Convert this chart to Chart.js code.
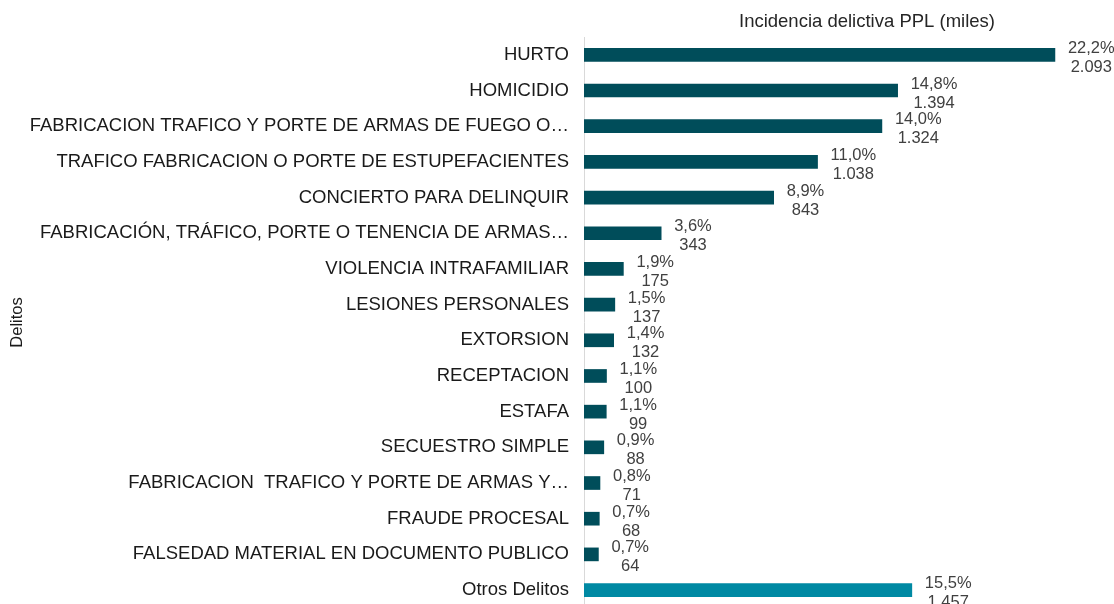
<!DOCTYPE html>
<html>
<head>
<meta charset="utf-8">
<script src="https://cdn.jsdelivr.net/npm/chart.js@4/dist/chart.umd.min.js"></script>
<style>
  html, body { margin: 0; padding: 0; background: #fff; overflow: hidden; }
  canvas { display: block; }
</style>
</head>
<body>
<canvas id="c" width="1114" height="634" style="width:1114px;height:634px"></canvas>
<script>
const categories = [
  "HURTO",
  "HOMICIDIO",
  "FABRICACION TRAFICO Y PORTE DE ARMAS DE FUEGO O…",
  "TRAFICO FABRICACION O PORTE DE ESTUPEFACIENTES",
  "CONCIERTO PARA DELINQUIR",
  "FABRICACIÓN, TRÁFICO, PORTE O TENENCIA DE ARMAS…",
  "VIOLENCIA INTRAFAMILIAR",
  "LESIONES PERSONALES",
  "EXTORSION",
  "RECEPTACION",
  "ESTAFA",
  "SECUESTRO SIMPLE",
  "FABRICACION  TRAFICO Y PORTE DE ARMAS Y…",
  "FRAUDE PROCESAL",
  "FALSEDAD MATERIAL EN DOCUMENTO PUBLICO",
  "Otros Delitos"
];
const values = [2093, 1394, 1324, 1038, 843, 343, 175, 137, 132, 100, 99, 88, 71, 68, 64, 1457];
const percentLabels = ["22,2%", "14,8%", "14,0%", "11,0%", "8,9%", "3,6%", "1,9%", "1,5%", "1,4%", "1,1%", "1,1%", "0,9%", "0,8%", "0,7%", "0,7%", "15,5%"];
const valueLabels = ["2.093", "1.394", "1.324", "1.038", "843", "343", "175", "137", "132", "100", "99", "88", "71", "68", "64", "1.457"];
const chartTitle = "Incidencia delictiva PPL (miles)";
const axisTitle = "Delitos";

const DARK = "#004d5a";
const LIGHT = "#0089a3";
const barColors = categories.map((c, i) => i === categories.length - 1 ? LIGHT : DARK);

const labelPlugin = {
  id: "barLabels",
  afterDatasetsDraw(chart) {
    const ctx = chart.ctx;
    const meta = chart.getDatasetMeta(0);
    ctx.save();
    ctx.font = "16.5px 'Liberation Sans', Arial, sans-serif";
    ctx.fillStyle = "#404040";
    ctx.textAlign = "center";
    ctx.textBaseline = "middle";
    meta.data.forEach((bar, i) => {
      const p = percentLabels[i], v = valueLabels[i];
      const w = Math.max(ctx.measureText(p).width, ctx.measureText(v).width);
      const left = bar.x + 13;
      const cx = left + w / 2;
      ctx.fillText(p, cx, bar.y - 6.5);
      ctx.fillText(v, cx, bar.y + 12.5);
    });
    ctx.fillStyle = "#262626";
    ctx.font = "18.5px 'Liberation Sans', Arial, sans-serif";
    ctx.fillText(chartTitle, 867, 22);
    ctx.restore();
  }
};

new Chart(document.getElementById("c"), {
  type: "bar",
  data: {
    labels: categories,
    datasets: [{
      data: values,
      backgroundColor: barColors,
      barThickness: 13,
      borderWidth: 0
    }]
  },
  options: {
    indexAxis: "y",
    responsive: false,
    maintainAspectRatio: false,
    animation: false,
    devicePixelRatio: 1,
    layout: { padding: { top: 37, bottom: 5, left: 0, right: 35 } },
    plugins: {
      legend: { display: false },
      tooltip: { enabled: false },
      title: { display: false }
    },
    scales: {
      x: {
        display: false,
        min: 0,
        max: 2200
      },
      y: {
        afterFit(scale) { scale.width = 584; },
        grid: { display: false, drawTicks: false },
        border: { display: true, color: "#d9d9d9", width: 1 },
        ticks: {
          padding: 15,
          color: "#1a1a1a",
          font: { family: "'Liberation Sans', Arial, sans-serif", size: 18.5 }
        },
        title: {
          display: true,
          text: axisTitle,
          color: "#1a1a1a",
          padding: { top: 8, bottom: 0 },
          font: { family: "'Liberation Sans', Arial, sans-serif", size: 16.5 }
        }
      }
    }
  },
  plugins: [labelPlugin]
});
</script>
</body>
</html>
